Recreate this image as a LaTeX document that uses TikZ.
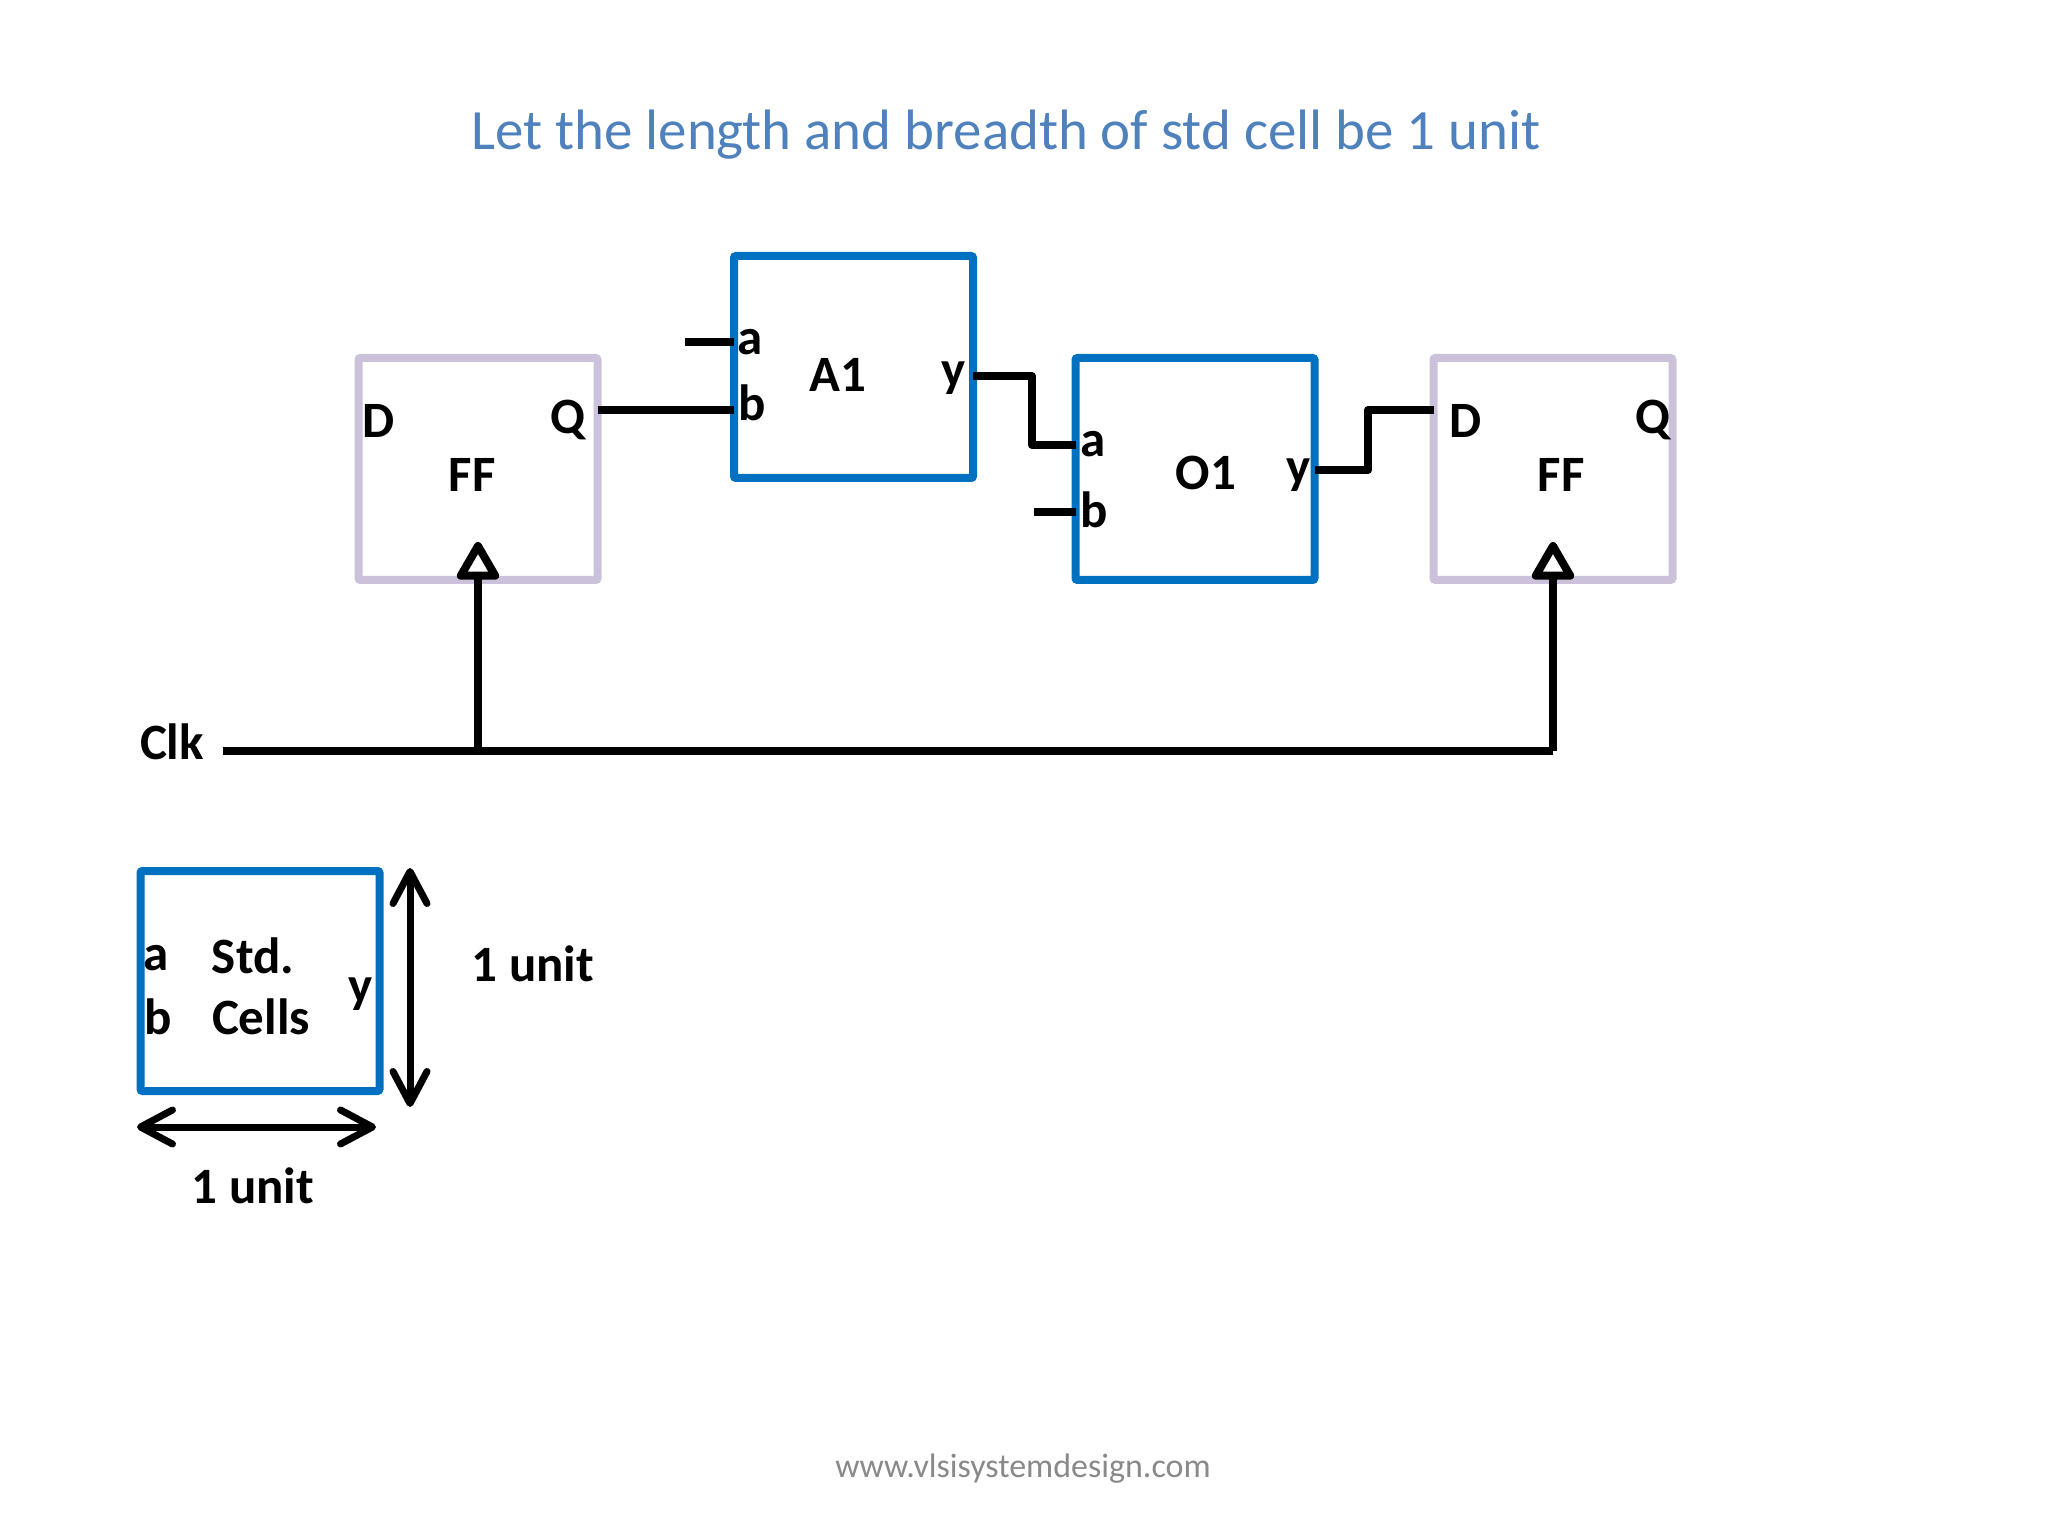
\documentclass[tikz,border=0pt]{standalone}
\usepackage{fontspec}
\setmainfont{Carlito}
\usetikzlibrary{arrows.meta}
\begin{document}
\begin{tikzpicture}[
	gate/.style={draw=gateblue,line width=0.08cm,rounded corners=0.02cm,inner sep=0,outer sep=0,minimum width=2.39cm,minimum height=2.22cm},
	flop/.style={gate,draw=floplilac},
	lab/.style={inner sep=0,font=\fontsize{14.5}{16}\selectfont\bfseries},
	wire/.style={line width=0.08cm,line join=round},
	clkarrow/.style={wire,-{Triangle[open,length=0.42cm,width=0.46cm,round,fill=white]}},
	dim/.style={line width=0.07cm,{Straight Barb[length=0.32cm,width=0.34cm,round]}-{Straight Barb[length=0.32cm,width=0.34cm,round]}}
	]
	\definecolor{gateblue}{HTML}{0070C0}
	\definecolor{floplilac}{HTML}{CCC1DA}
	\definecolor{titleblue}{HTML}{4F81BD}
	\definecolor{footgrey}{HTML}{898989}
	\useasboundingbox (0,0) rectangle (20.48,-15.36);
	
	\node (title) at (10.06,-1.35) [inner sep=0,text=titleblue,font=\fontsize{16.2}{19}\selectfont] {Let the length and breadth of std cell be 1 unit};
	\node (footer) at (10.23,-14.69) [inner sep=0,text=footgrey,font=\fontsize{9.66}{12}\selectfont] {www.vlsisystemdesign.com};
	
	\node (ff1) at (4.78,-4.69) [flop] {};
	\node (a1) at (8.535,-3.67) [gate] {};
	\node (o1) at (11.95,-4.69) [gate] {};
	\node (ff2) at (15.53,-4.69) [flop] {};
	\node (std) at (2.60,-9.81) [gate,minimum height=2.2cm] {};
	
	\node (ff1d) at (3.79,-4.21) [lab] {D};
	\node (ff1q) at (5.68,-4.20) [lab] {Q};
	\node (ff1name) at (4.72,-4.75) [lab] {FF};
	
	\node (a1a) at (7.50,-3.42) [lab] {a};
	\node (a1b) at (7.52,-4.03) [lab] {b};
	\node (a1name) at (8.38,-3.75) [lab] {A1};
	\node (a1y) at (9.54,-3.78) [lab] {y};
	
	\node (o1a) at (10.93,-4.44) [lab] {a};
	\node (o1b) at (10.94,-5.10) [lab] {b};
	\node (o1name) at (12.06,-4.73) [lab] {O1};
	\node (o1y) at (12.99,-4.75) [lab] {y};
	
	\node (ff2d) at (14.66,-4.21) [lab] {D};
	\node (ff2q) at (16.53,-4.20) [lab] {Q};
	\node (ff2name) at (15.61,-4.75) [lab] {FF};
	
	\node (clk) at (1.72,-7.42) [lab] {Clk};
	
	\node (stda) at (1.56,-9.58) [lab] {a};
	\node (stdb) at (1.58,-10.17) [lab] {b};
	\node (stdtop) at (2.53,-9.56) [lab] {Std.};
	\node (stdbot) at (2.61,-10.17) [lab] {Cells};
	\node (stdy) at (3.61,-9.94) [lab] {y};
	\node (unitv) at (5.33,-9.64) [lab] {1 unit};
	\node (unith) at (2.53,-11.86) [lab] {1 unit};
	
	\coordinate (stuba) at (6.85,-3.42);
	\coordinate (stubb) at (10.34,-5.12);
	\coordinate (qwire) at (5,-4.10);
	\coordinate (ywire) at (10.32,-3.76);
	\coordinate (awire) at (10.32,-4.45);
	\coordinate (ytwo) at (13.68,-4.70);
	\coordinate (dtwo) at (13.68,-4.10);
	\coordinate (clkstart) at (2.23,-7.51);
	\coordinate (clkend) at (15.53,-7.51);
	\coordinate (clktap) at (4.78,-7.51);
	\coordinate (tipone) at (4.78,-5.42);
	\coordinate (tiptwo) at (15.53,-5.42);
	\coordinate (vtop) at (4.10,-8.68);
	\coordinate (vbot) at (4.10,-11.07);
	\coordinate (hleft) at (1.37,-11.27);
	\coordinate (hright) at (3.76,-11.27);
	
	\draw [wire] (stuba) -- (a1.west |- stuba);
	\draw [wire] (ff1.east |- qwire) -- (a1.west |- qwire);
	\draw [wire] (a1.east |- ywire) -- (ywire) -- (awire) -- (o1.west |- awire);
	\draw [wire] (stubb) -- (o1.west |- stubb);
	\draw [wire] (o1.east |- ytwo) -- (ytwo) -- (dtwo) -- (ff2.west |- dtwo);
	
	\draw [wire] (clkstart) -- (clktap);
	\draw [wire] (clktap) -- (clkend);
	\draw [clkarrow] (clktap) -- (tipone);
	\draw [clkarrow] (clkend) -- (tiptwo);
	
	\draw [dim] (vtop) -- (vbot);
	\draw [dim] (hleft) -- (hright);
	
\end{tikzpicture}
\end{document}
